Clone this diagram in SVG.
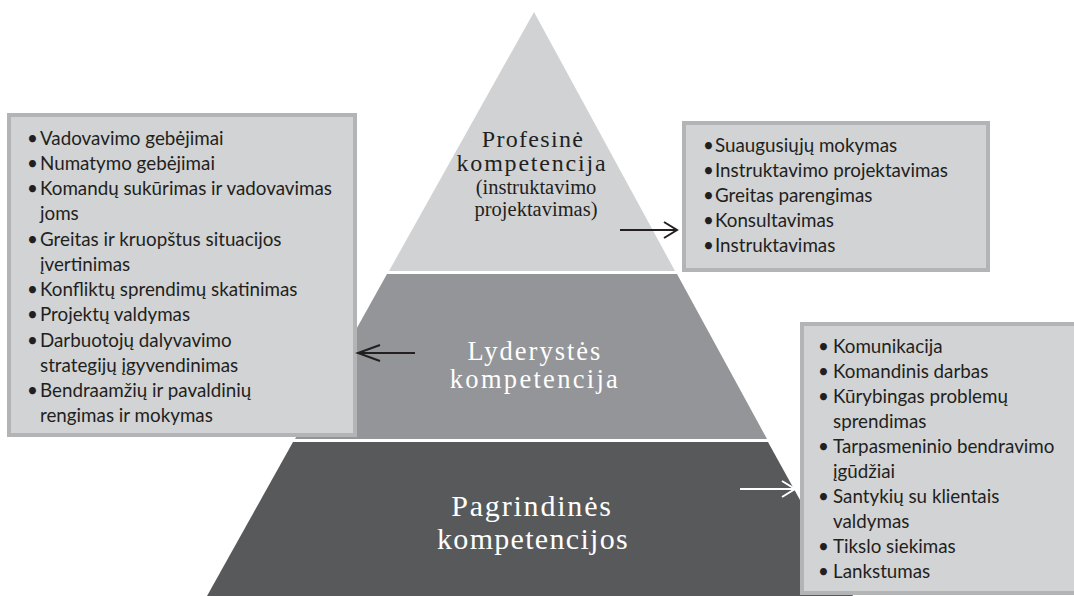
<svg xmlns="http://www.w3.org/2000/svg" width="1074" height="596" viewBox="0 0 1074 596">
<style>
.box{fill:#d1d3d4;stroke:#b3b4b6;stroke-width:4}
.bt{font-family:Lato,"Liberation Sans",sans-serif;font-size:18.8px;fill:#231f20}
.pt{font-family:"Liberation Serif",serif;fill:#231f20;text-anchor:middle}
.w{fill:#ffffff}
.arr{fill:none;stroke-width:2}
</style>
<rect width="1074" height="596" fill="#ffffff"/>
<g id="tier-professional">
<polygon points="534,12 675,271 389,271" fill="#d1d2d4"/>
<text class="pt" x="533" y="147" font-size="24" letter-spacing="1.3">Profesinė</text>
<text class="pt" x="532" y="171" font-size="24" letter-spacing="1.8">kompetencija</text>
<text class="pt" x="536" y="194" font-size="20.5">(instruktavimo</text>
<text class="pt" x="536" y="216" font-size="20.5">projektavimas)</text>
</g>
<g id="tier-leadership">
<polygon points="387,274 677,274 767,439 295,439" fill="#939598"/>
<text class="pt w" x="535" y="360" font-size="26.5" letter-spacing="2">Lyderystės</text>
<text class="pt w" x="535" y="388" font-size="26.5" letter-spacing="2.3">kompetencija</text>
</g>
<g id="tier-core">
<polygon points="293,442 768,442 853,596 207,596" fill="#58595b"/>
<text class="pt w" x="532" y="516" font-size="30" letter-spacing="1.8">Pagrindinės</text>
<text class="pt w" x="533" y="549" font-size="30" letter-spacing="1.3">kompetencijos</text>
</g>
<g id="box-leadership">
<rect class="box" x="9" y="115" width="346" height="320"/>
<g class="bt">
<text x="27" y="145">•</text><text x="40" y="145">Vadovavimo gebėjimai</text>
<text x="27" y="170">•</text><text x="40" y="170">Numatymo gebėjimai</text>
<text x="27" y="195">•</text><text x="40" y="195">Komandų sukūrimas ir vadovavimas</text>
<text x="40" y="220">joms</text>
<text x="27" y="246">•</text><text x="40" y="246">Greitas ir kruopštus situacijos</text>
<text x="40" y="271">įvertinimas</text>
<text x="27" y="296">•</text><text x="40" y="296">Konfliktų sprendimų skatinimas</text>
<text x="27" y="321">•</text><text x="40" y="321">Projektų valdymas</text>
<text x="27" y="347">•</text><text x="40" y="347">Darbuotojų dalyvavimo</text>
<text x="40" y="372">strategijų įgyvendinimas</text>
<text x="27" y="397">•</text><text x="40" y="397">Bendraamžių ir pavaldinių</text>
<text x="40" y="422">rengimas ir mokymas</text>
</g>
</g>
<g id="box-professional">
<rect class="box" x="684" y="123" width="304" height="147"/>
<g class="bt">
<text x="703" y="152">•</text><text x="715" y="152">Suaugusiųjų mokymas</text>
<text x="703" y="177">•</text><text x="715" y="177">Instruktavimo projektavimas</text>
<text x="703" y="202">•</text><text x="715" y="202">Greitas parengimas</text>
<text x="703" y="227">•</text><text x="715" y="227">Konsultavimas</text>
<text x="703" y="252">•</text><text x="715" y="252">Instruktavimas</text>
</g>
</g>
<g id="box-core">
<rect class="box" x="802" y="324" width="290" height="269"/>
<g class="bt">
<text x="818" y="353">•</text><text x="833" y="353">Komunikacija</text>
<text x="818" y="378">•</text><text x="833" y="378">Komandinis darbas</text>
<text x="818" y="403">•</text><text x="833" y="403">Kūrybingas problemų</text>
<text x="833" y="428">sprendimas</text>
<text x="818" y="453">•</text><text x="833" y="453">Tarpasmeninio bendravimo</text>
<text x="833" y="478">įgūdžiai</text>
<text x="818" y="503">•</text><text x="833" y="503">Santykių su klientais</text>
<text x="833" y="528">valdymas</text>
<text x="818" y="553">•</text><text x="833" y="553">Tikslo siekimas</text>
<text x="818" y="578">•</text><text x="833" y="578">Lankstumas</text>
</g>
</g>
<g id="connectors">
<g stroke="#231f20" class="arr">
<path d="M620,230 H676 M664,222 L677,230 L664,238"/>
<path d="M415,353 H359 M380,345 L358,353 L380,361"/>
</g>
<path class="arr" stroke="#ffffff" d="M740,489 H794 M782,481 L795,489 L782,497"/>
</g>
</svg>
